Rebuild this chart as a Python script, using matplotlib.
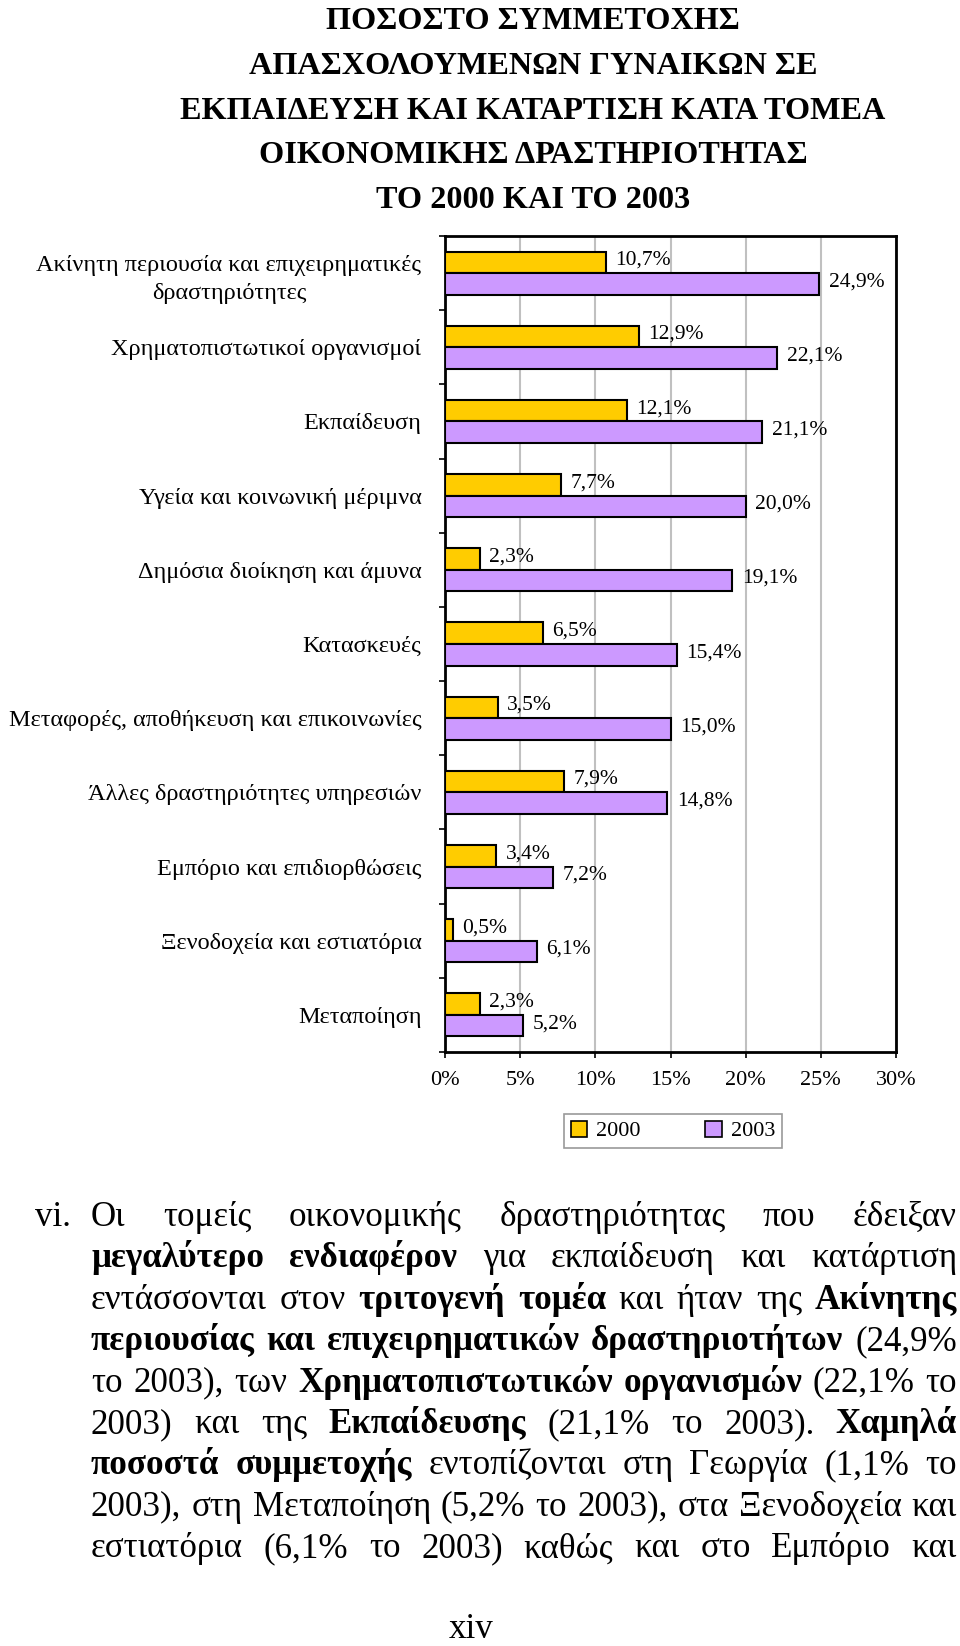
"""
Participation of employed women in education and training by sector,
2000 vs 2003. Page-style render with title, chart and text paragraph.
"""
import matplotlib
matplotlib.use("Agg")
import matplotlib.pyplot as plt
from matplotlib.patches import Patch
import numpy as np

W, H = 960, 1646

title_lines = [
    "ΠΟΣΟΣΤΟ ΣΥΜΜΕΤΟΧΗΣ",
    "ΑΠΑΣΧΟΛΟΥΜΕΝΩΝ ΓΥΝΑΙΚΩΝ ΣΕ",
    "ΕΚΠΑΙΔΕΥΣΗ ΚΑΙ ΚΑΤΑΡΤΙΣΗ ΚΑΤΑ ΤΟΜΕΑ",
    "ΟΙΚΟΝΟΜΙΚΗΣ ΔΡΑΣΤΗΡΙΟΤΗΤΑΣ",
    "ΤΟ 2000 ΚΑΙ ΤΟ 2003",
]

sectors = [
    "Ακίνητη περιουσία και επιχειρηματικές\nδραστηριότητες",
    "Χρηματοπιστωτικοί οργανισμοί",
    "Εκπαίδευση",
    "Υγεία και κοινωνική μέριμνα",
    "Δημόσια διοίκηση και άμυνα",
    "Κατασκευές",
    "Μεταφορές, αποθήκευση και επικοινωνίες",
    "Άλλες δραστηριότητες υπηρεσιών",
    "Εμπόριο και επιδιορθώσεις",
    "Ξενοδοχεία και εστιατόρια",
    "Μεταποίηση",
]
share_2000 = [10.7, 12.9, 12.1, 7.7, 2.3, 6.5, 3.5, 7.9, 3.4, 0.5, 2.3]
share_2003 = [24.9, 22.1, 21.1, 20.0, 19.1, 15.4, 15.0, 14.8, 7.2, 6.1, 5.2]
years = ["2000", "2003"]
xticks = [0, 5, 10, 15, 20, 25, 30]

# paragraph lines as (text, bold) runs
paragraph = [
    [("Οι τομείς οικονομικής δραστηριότητας που έδειξαν", False)],
    [("μεγαλύτερο ενδιαφέρον", True), ("για εκπαίδευση και κατάρτιση", False)],
    [("εντάσσονται στον", False), ("τριτογενή τομέα", True),
     ("και ήταν της", False), ("Ακίνητης", True)],
    [("περιουσίας και επιχειρηματικών δραστηριοτήτων", True), ("(24,9%", False)],
    [("το 2003), των", False), ("Χρηματοπιστωτικών οργανισμών", True),
     ("(22,1% το", False)],
    [("2003) και της", False), ("Εκπαίδευσης", True),
     ("(21,1% το 2003).", False), ("Χαμηλά", True)],
    [("ποσοστά συμμετοχής", True), ("εντοπίζονται στη Γεωργία (1,1% το", False)],
    [("2003), στη Μεταποίηση (5,2% το 2003), στα Ξενοδοχεία και", False)],
    [("εστιατόρια (6,1% το 2003) καθώς και στο Εμπόριο και", False)],
]

YELLOW = "#FFCC00"
PURPLE = "#CC99FF"

plt.rcParams["font.family"] = ["Liberation Serif", "DejaVu Serif"]


def fx(x):
    return x / W


def fy(y):
    return 1 - y / H


def pct(v):
    return f"{v:.1f}%".replace(".", ",")


fig = plt.figure(figsize=(W / 100, H / 100), dpi=100)

# Title
for i, line in enumerate(title_lines):
    fig.text(fx(533), fy(29 + 44.8 * i), line, ha="center", va="baseline",
             fontsize=23.2, fontweight="bold")

# Chart
ax = fig.add_axes([fx(445), fy(1052), (896 - 445) / W, (1052 - 236) / H])
pos = np.arange(len(sectors))
h = 0.29
ax.barh(pos - h / 2, share_2000, height=h, color=YELLOW, edgecolor="black",
        linewidth=1.5, zorder=3)
ax.barh(pos + h / 2, share_2003, height=h, color=PURPLE, edgecolor="black",
        linewidth=1.5, zorder=3)
for offs, vals in ((-h / 2, share_2000), (h / 2, share_2003)):
    for y, v in zip(pos + offs, vals):
        ax.annotate(pct(v), (v, y), xytext=(7, 1.5), textcoords="offset points",
                    ha="left", va="center", fontsize=15.5)

ax.set_xlim(0, 30)
ax.set_ylim(len(sectors) - 0.5, -0.5)
ax.set_xticks(xticks)
ax.set_xticklabels([f"{t}%" for t in xticks], fontsize=16)
ax.xaxis.grid(True, color="#c0c0c0", lw=1.5)
ax.set_axisbelow(True)
ax.set_yticks(pos)
ax.set_yticklabels(sectors, fontsize=17.5, multialignment="center",
                   linespacing=1.45)
ax.tick_params(axis="y", which="major", length=0, pad=17)
ax.set_yticks(np.arange(len(sectors) + 1) - 0.5, minor=True)
ax.tick_params(axis="y", which="minor", length=4, width=1.2, direction="out")
ax.tick_params(axis="x", length=4, width=1.2, pad=10)
for s in ax.spines.values():
    s.set_linewidth(2)

handles = [Patch(facecolor=c, edgecolor="black", lw=1.2, label=y)
           for c, y in zip((YELLOW, PURPLE), years)]
leg = fig.legend(handles=handles, loc="center",
                 bbox_to_anchor=(fx(673), fy(1131)), ncol=2, frameon=True,
                 fancybox=False, edgecolor="#808080", fontsize=16,
                 handlelength=0.75, handleheight=0.75, handletextpad=0.4,
                 columnspacing=2.9, borderpad=0.3)
leg.get_frame().set_linewidth(1.2)

# Justified paragraph
renderer = fig.canvas.get_renderer()


def words_of(line):
    out = []
    for text, bold in line:
        out += [(w, bold) for w in text.split()]
    return out


def width(word, bold, size):
    t = fig.text(0, 0, word, fontsize=size,
                 fontweight="bold" if bold else "normal")
    w = t.get_window_extent(renderer).width
    t.remove()
    return w


left, right = 91, 957
span = right - left
base = 20
natural = []
for line in paragraph:
    ws = words_of(line)
    natural.append(sum(width(w, b, base) for w, b in ws)
                   + 0.25 * base * 100 / 72 * (len(ws) - 1))
size = base * span * 0.985 / max(natural)

fig.text(fx(35), fy(1226), "vi.", ha="left", va="baseline", fontsize=size)
for k, line in enumerate(paragraph):
    ws = words_of(line)
    widths = [width(w, b, size) for w, b in ws]
    gap = (span - sum(widths)) / (len(ws) - 1)
    x = left
    for (w, b), wd in zip(ws, widths):
        fig.text(fx(x), fy(1226 + 41.4 * k), w, ha="left", va="baseline",
                 fontsize=size, fontweight="bold" if b else "normal")
        x += wd + gap

fig.text(fx(471), fy(1638), "xiv", ha="center", va="baseline", fontsize=size)

fig.savefig("out.png", dpi=100)
plt.close(fig)
